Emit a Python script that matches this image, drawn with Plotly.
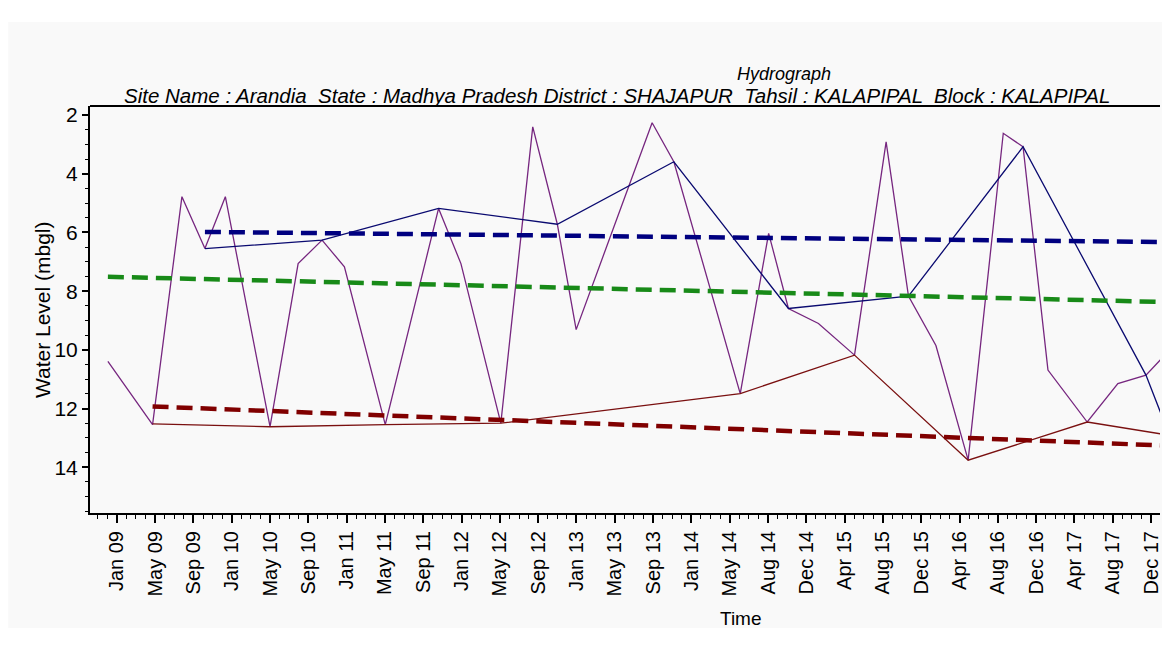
import pandas as pd
import plotly.graph_objects as go

# ---- data ----
all_dates = ["2008-12-31", "2009-05-20", "2009-08-20", "2009-10-31", "2010-01-03", "2010-05-23",
             "2010-08-19", "2010-11-02", "2011-01-11", "2011-05-19", "2011-11-02", "2012-01-11",
             "2012-05-15", "2012-08-23", "2012-11-08", "2013-01-06", "2013-09-01", "2013-11-08",
             "2014-06-04", "2014-09-01", "2014-11-02", "2015-02-04", "2015-05-28", "2015-09-04",
             "2015-11-13", "2016-02-07", "2016-05-18", "2016-09-05", "2016-11-06", "2017-01-23",
             "2017-05-26", "2017-08-30", "2017-11-26", "2018-01-31"]
all_levels = [10.39, 12.55, 4.78, 6.55, 4.78, 12.62,
              7.06, 6.26, 7.17, 12.55, 5.18, 7.06,
              12.50, 2.40, 5.72, 9.31, 2.26, 3.59,
              11.49, 6.03, 8.59, 9.10, 10.18, 2.91,
              8.17, 9.85, 13.76, 2.62, 3.08, 10.69,
              12.46, 11.15, 10.86, 10.10]

post_dates = ["2009-10-31", "2010-11-02", "2011-11-02", "2012-11-08", "2013-11-08",
              "2014-11-02", "2015-11-13", "2016-11-06", "2017-11-26", "2018-01-31"]
post_levels = [6.55, 6.26, 5.18, 5.72, 3.59, 8.59, 8.17, 3.08, 10.86, 12.70]

pre_dates = ["2009-05-20", "2010-05-23", "2011-05-19", "2012-05-15", "2014-06-04",
             "2015-05-28", "2016-05-18", "2017-05-26", "2018-05-20"]
pre_levels = [12.52, 12.62, 12.55, 12.50, 11.49, 10.18, 13.76, 12.46, 13.09]

trend_post_dates = ["2009-10-31", "2018-05-20"]
trend_post_levels = [5.98, 6.34]
trend_all_dates = ["2008-12-31", "2018-05-20"]
trend_all_levels = [7.51, 8.40]
trend_pre_dates = ["2009-05-20", "2018-05-20"]
trend_pre_levels = [11.93, 13.31]

tick_labels = ["Jan 09", "May 09", "Sep 09", "Jan 10", "May 10", "Sep 10", "Jan 11", "May 11",
               "Sep 11", "Jan 12", "May 12", "Sep 12", "Jan 13", "May 13", "Sep 13", "Jan 14",
               "May 14", "Aug 14", "Dec 14", "Apr 15", "Aug 15", "Dec 15", "Apr 16", "Aug 16",
               "Dec 16", "Apr 17", "Aug 17", "Dec 17"]
tick_dates = pd.date_range("2009-01-28", periods=len(tick_labels), freq="120D")

title_text = "Hydrograph"
subtitle_text = ("Site Name : Arandia  State : Madhya Pradesh District : SHAJAPUR  "
                 "Tahsil : KALAPIPAL  Block : KALAPIPAL")

FONT = "Liberation Sans, Arial, sans-serif"
OFF = 8  # page body margin
W, H = 1170 - OFF, 647 - OFF
L, T = 90 - OFF, 106 - OFF
R = W - (1162 - OFF)
B = H - (513 - OFF)
PW, PH = W - L - R, H - T - B


def px_x(px):  # reference page pixel -> paper
    return (px - OFF - L) / PW


def px_y(py):
    return (H - B - (py - OFF)) / PH


fig = go.Figure()

thin = 1.3
fig.add_trace(go.Scatter(x=pd.to_datetime(all_dates), y=all_levels, mode="lines",
                         line=dict(color="#76267f", width=thin), showlegend=False))
fig.add_trace(go.Scatter(x=pd.to_datetime(post_dates), y=post_levels, mode="lines",
                         line=dict(color="#0a0a70", width=thin), showlegend=False))
fig.add_trace(go.Scatter(x=pd.to_datetime(pre_dates), y=pre_levels, mode="lines",
                         line=dict(color="#7a1010", width=thin), showlegend=False))

dash = "16px,8px"
fig.add_trace(go.Scatter(x=pd.to_datetime(trend_post_dates), y=trend_post_levels, mode="lines",
                         line=dict(color="#000080", width=4.5, dash=dash), showlegend=False))
fig.add_trace(go.Scatter(x=pd.to_datetime(trend_all_dates), y=trend_all_levels, mode="lines",
                         line=dict(color="#188a18", width=4.5, dash=dash), showlegend=False))
fig.add_trace(go.Scatter(x=pd.to_datetime(trend_pre_dates), y=trend_pre_levels, mode="lines",
                         line=dict(color="#800000", width=4.5, dash=dash), showlegend=False))

fig.update_layout(
    width=W, height=H,
    margin=dict(l=L, r=R, t=T, b=B, pad=0),
    paper_bgcolor="#ffffff",
    plot_bgcolor="#f9f9f9",
    font=dict(family=FONT, color="#000000", size=20),
    showlegend=False,
    xaxis=dict(
        range=["2008-11-05", "2018-01-09"],
        tickmode="array", tickvals=tick_dates, ticktext=tick_labels,
        tickangle=-90, tickfont=dict(size=20, family=FONT),
        ticks="outside", ticklen=8, tickwidth=1.5, tickcolor="#000",
        showline=True, linecolor="#000", linewidth=2, mirror=False,
        showgrid=False, zeroline=False,
        minor=dict(tickmode="linear", tick0="2009-01-28", dtick=30 * 86400000,
                   ticks="outside", ticklen=4, tickcolor="#000", tickwidth=1, showgrid=False),
    ),
    yaxis=dict(
        range=[15.56, 1.69],
        tickmode="linear", tick0=2, dtick=2,
        tickfont=dict(size=21, family=FONT),
        ticks="outside", ticklen=6, tickwidth=1.5, tickcolor="#000",
        showline=True, linecolor="#000", linewidth=2, mirror=False,
        showgrid=False, zeroline=False,
        minor=dict(tickmode="linear", tick0=2, dtick=0.5, ticks="outside", ticklen=3,
                   tickcolor="#000", tickwidth=1, showgrid=False),
    ),
    shapes=[
        dict(type="rect", xref="paper", yref="paper", layer="below",
             x0=px_x(8), x1=px_x(1170), y0=px_y(628), y1=px_y(22),
             fillcolor="#f9f9f9", line=dict(width=0)),
        dict(type="line", xref="paper", yref="paper", x0=0, x1=1, y0=1, y1=1,
             line=dict(color="#000", width=2)),
    ],
    annotations=[
        dict(text="<i>" + title_text + "</i>", xref="paper", yref="paper",
             x=px_x(785), y=px_y(74), xanchor="center", yanchor="middle",
             showarrow=False, font=dict(size=18, family=FONT)),
        dict(text="<i>" + subtitle_text + "</i>", xref="paper", yref="paper",
             x=px_x(122), y=px_y(96), xanchor="left", yanchor="middle",
             showarrow=False, font=dict(size=20.5, family=FONT)),
        dict(text="Time", xref="paper", yref="paper",
             x=px_x(742), y=px_y(618), xanchor="center", yanchor="middle",
             showarrow=False, font=dict(size=19, family=FONT)),
        dict(text="Water Level (mbgl)", xref="paper", yref="paper", textangle=-90,
             x=px_x(42), y=px_y(310), xanchor="center", yanchor="middle",
             showarrow=False, font=dict(size=21, family=FONT)),
    ],
)

fig.write_html("out.html")
